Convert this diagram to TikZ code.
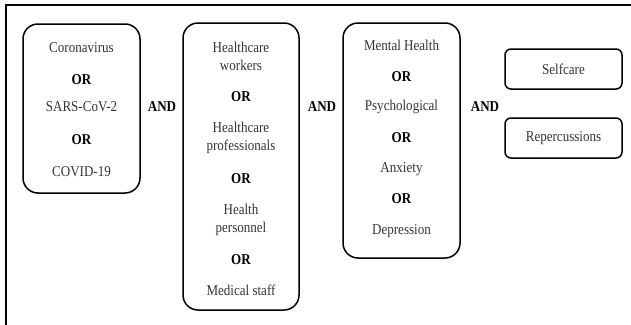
\documentclass[tikz,border=0pt]{standalone}
\usepackage{fontspec}
\setmainfont[FakeStretch=0.87]{Liberation Serif}
\usepackage{tikz}
\usetikzlibrary{positioning}
\tikzstyle{frame} = [line width=2.4pt]
\tikzstyle{bigbox} = [draw, rounded corners=15pt, line width=1.5pt, inner sep=0pt]
\tikzstyle{smallbox} = [draw, rounded corners=6pt, line width=1.5pt, inner sep=0pt, minimum width=117pt, minimum height=40pt]
\tikzstyle{term} = [text=black!80, font=\fontsize{15}{18}\selectfont, align=center, inner sep=0pt]
\tikzstyle{op} = [font=\fontsize{15}{18}\selectfont\bfseries, inner sep=0pt]

\begin{document}
\begin{tikzpicture}[x=1pt, y=-1pt]
				\useasboundingbox (0,0) rectangle (631,324);
				\draw [frame] (6,326) -- (6,5) -- (633,5);

				% first group
				\node [bigbox, minimum width=117pt, minimum height=169pt] (virus) at (81.5,108.5) {};
				\node [term] (corona) at (81.5,48) {Coronavirus};
				\node [op] (or11) at (81.5,80) {OR};
				\node [term] (sars) at (81.5,107) {SARS-CoV-2};
				\node [op] (or12) at (81.5,140) {OR};
				\node [term] (covid) at (81.5,172) {COVID-19};

				\node [op] (and1) at (162,107) {AND};

				% second group
				\node [bigbox, minimum width=116pt, minimum height=287pt] (staff) at (241,166.5) {};
				\node [term] (hcw) at (241,56) {Healthcare\\workers};
				\node [op] (or21) at (241,97) {OR};
				\node [term] (hcp) at (241,137.5) {Healthcare\\professionals};
				\node [op] (or22) at (241,179) {OR};
				\node [term] (hp) at (241,220) {Health\\personnel};
				\node [op] (or23) at (241,260) {OR};
				\node [term] (ms) at (241,290) {Medical staff};

				\node [op] (and2) at (322,107) {AND};

				% third group
				\node [bigbox, minimum width=117pt, minimum height=235pt] (mind) at (401.5,140.5) {};
				\node [term] (mh) at (401.5,45) {Mental Health};
				\node [op] (or31) at (401.5,77) {OR};
				\node [term] (psy) at (401.5,107) {Psychological};
				\node [op] (or32) at (401.5,138) {OR};
				\node [term] (anx) at (401.5,169) {Anxiety};
				\node [op] (or33) at (401.5,199) {OR};
				\node [term] (dep) at (401.5,231) {Depression};

				\node [op] (and3) at (485,107) {AND};

				% last group
				\node [smallbox, term] (self) at (563.5,69) {Selfcare};
				\node [smallbox, term] (rep) at (563.5,138) {Repercussions};
			\end{tikzpicture}
\end{document}
